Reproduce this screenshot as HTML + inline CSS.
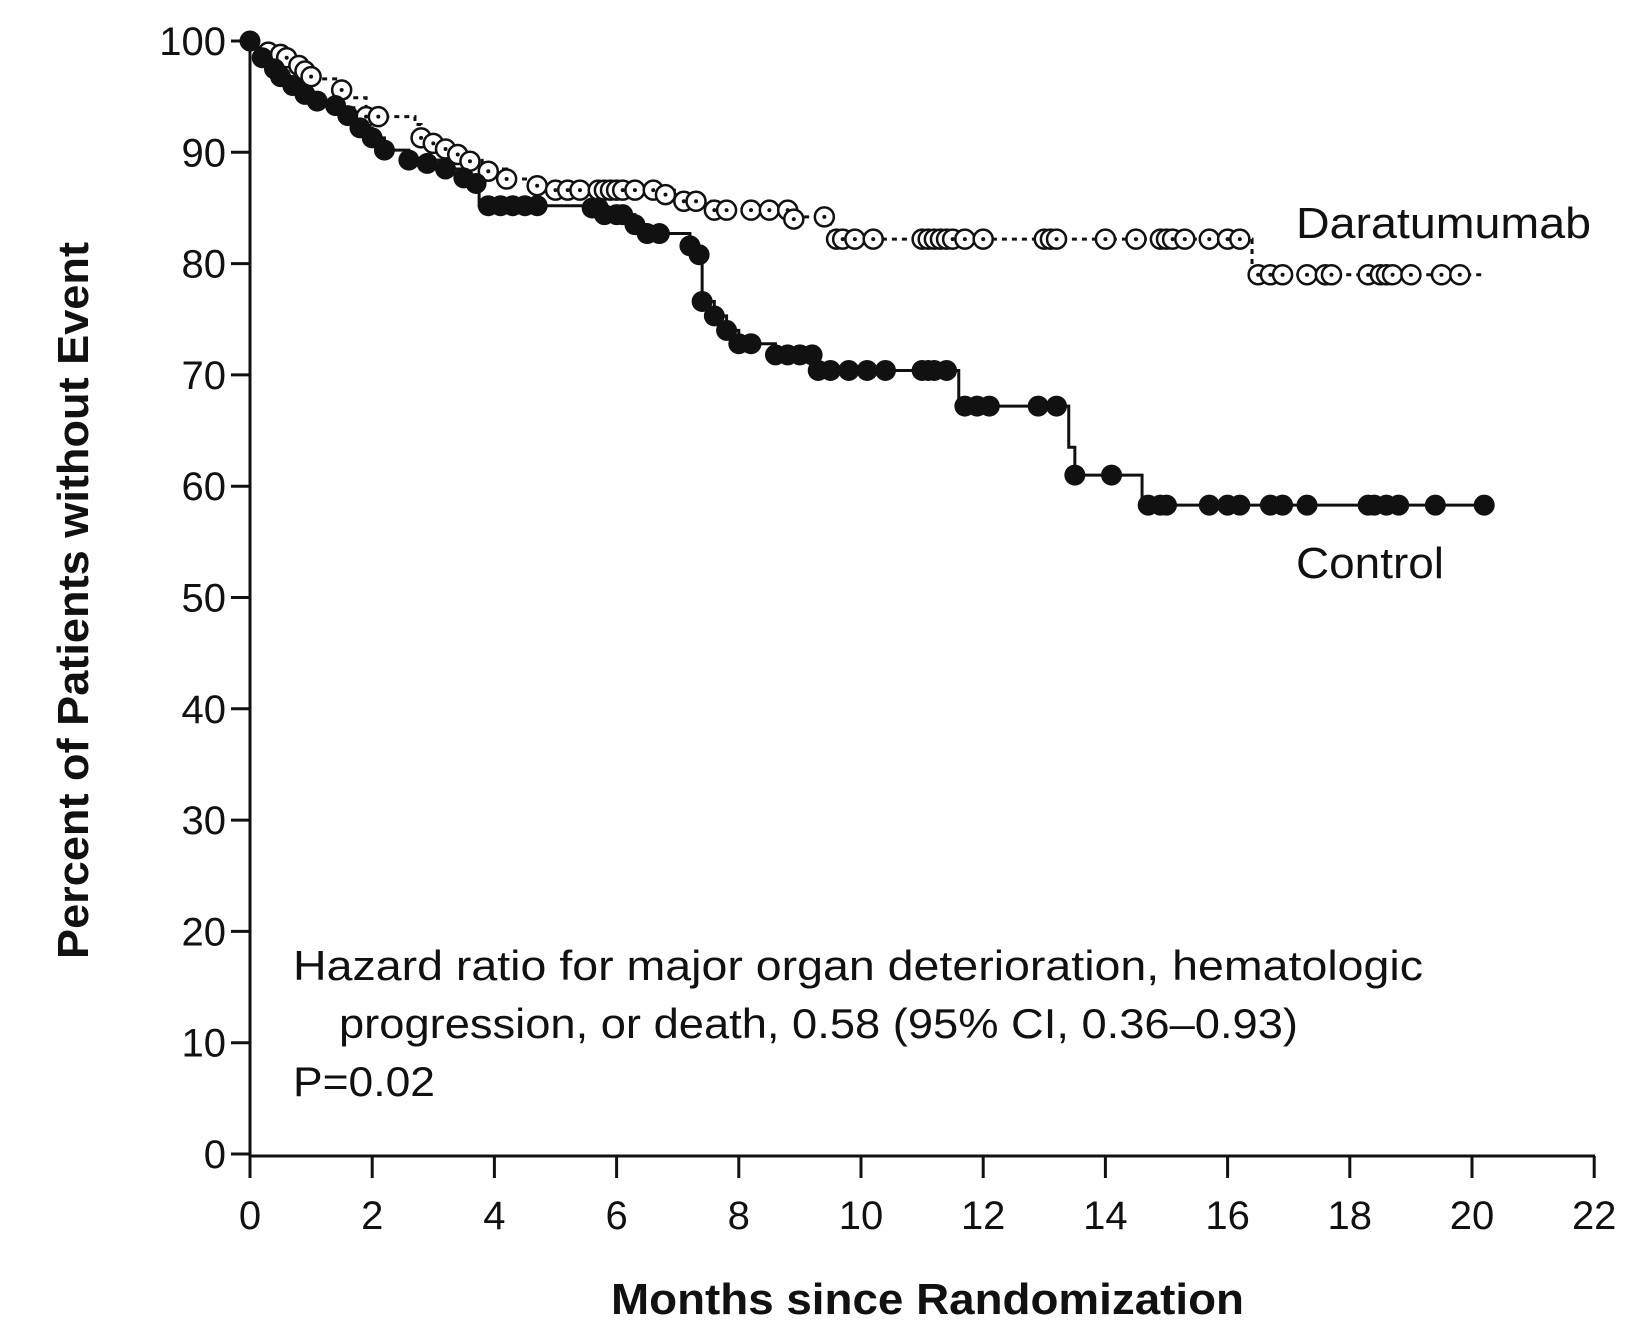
<!DOCTYPE html>
<html><head><meta charset="utf-8"><style>
body{margin:0;background:#fff}
svg{display:block;font-family:"Liberation Sans",sans-serif;fill:#111}
</style></head><body>
<svg id="s" width="1644" height="1328" viewBox="0 0 1644 1328" xmlns="http://www.w3.org/2000/svg">
<g stroke="#111" stroke-width="3" fill="none">
<line x1="250" y1="41" x2="250" y2="1156"/>
<line x1="250" y1="1156" x2="1595" y2="1156"/>
</g>
<g id="ticks" stroke="#111" stroke-width="3"></g>
<g id="labels" font-size="40"></g>
<text x="1296" y="238" font-size="44" textLength="295" lengthAdjust="spacingAndGlyphs">Daratumumab</text>
<text x="1296" y="578" font-size="44" textLength="148" lengthAdjust="spacingAndGlyphs">Control</text>
<text x="293" y="980" font-size="42" textLength="1130" lengthAdjust="spacingAndGlyphs">Hazard ratio for major organ deterioration, hematologic</text>
<text x="339" y="1038" font-size="42" textLength="959" lengthAdjust="spacingAndGlyphs">progression, or death, 0.58 (95% CI, 0.36–0.93)</text>
<text x="293" y="1096" font-size="42" textLength="142" lengthAdjust="spacingAndGlyphs">P=0.02</text>
<text x="611" y="1314" font-size="44" font-weight="bold" textLength="633" lengthAdjust="spacingAndGlyphs">Months since Randomization</text>
<text transform="translate(88,959) rotate(-90)" font-size="44" font-weight="bold" textLength="717" lengthAdjust="spacingAndGlyphs">Percent of Patients without Event</text>
<g id="plot"></g>
</svg>
<script>
var NS="http://www.w3.org/2000/svg";
function X(m){return 250+m*61.1}function Y(p){return 41+(100-p)*11.13}
function el(t,a,p){var e=document.createElementNS(NS,t);for(var k in a)e.setAttribute(k,a[k]);p.appendChild(e);return e}
var tk=document.getElementById('ticks'),lb=document.getElementById('labels'),pl=document.getElementById('plot');
for(var i=0;i<=10;i++){var y=Y(i*10);el('line',{x1:231,y1:y,x2:250,y2:y},tk);var t=el('text',{x:226,y:y+14,'text-anchor':'end'},lb);t.textContent=i*10;}
for(var m=0;m<=22;m+=2){var x=X(m);el('line',{x1:x,y1:1156,x2:x,y2:1178},tk);var t=el('text',{x:x,y:1229,'text-anchor':'middle'},lb);t.textContent=m;}
function steps(a){var d='M'+X(a[0][0])+' '+Y(a[0][1]);for(var i=1;i<a.length;i++){d+=' H'+X(a[i][0])+' V'+Y(a[i][1]);}return d}
var dara=[[0,100],[0.1,99.5],[0.3,99],[0.6,98.5],[0.8,97.8],[0.9,97.3],[1.0,96.6],[1.5,95.6],[1.6,94.9],[1.9,93.2],[2.7,92.5],[2.8,91.3],[3.1,90.5],[3.5,89.5],[3.8,88.5],[4.2,87.6],[4.7,87],[5,86.6],[7,85.6],[7.6,84.8],[8.8,84.2],[9.5,82.2],[16.4,79],[20.2,79]];
var ctrl=[[0,100],[0.1,99],[0.2,98.3],[0.4,97.5],[0.5,96.8],[0.7,96],[0.9,95.2],[1.1,94.6],[1.5,94],[1.7,93],[1.8,92.2],[2,91.3],[2.2,90.2],[2.6,89.3],[3.2,88.5],[3.5,87.7],[3.7,87],[3.75,85.2],[5.6,85],[5.8,84.4],[6.3,83.5],[6.5,82.7],[7.2,81.6],[7.35,80.8],[7.4,76.6],[7.6,75.3],[7.8,74],[8,72.8],[8.6,71.8],[9.3,70.4],[11.6,67.2],[13.4,63.5],[13.5,61],[14.6,58.3],[20.2,58.3]];
el('path',{d:steps(dara),fill:'none',stroke:'#111','stroke-width':3,'stroke-dasharray':'5 5'},pl);
el('path',{d:steps(ctrl),fill:'none',stroke:'#111','stroke-width':3},pl);
var dc=[[0.3,99],[0.5,98.8],[0.6,98.5],[0.8,97.8],[0.9,97.3],[1.0,96.8],[1.5,95.6],[1.9,93.2],[2.1,93.2],[2.8,91.3],[3.0,90.8],[3.2,90.3],[3.4,89.8],[3.6,89.2],[3.9,88.3],[4.2,87.6],[4.7,87],[5,86.6],[5.2,86.6],[5.4,86.6],[5.7,86.6],[5.8,86.6],[5.9,86.6],[6,86.6],[6.1,86.6],[6.3,86.6],[6.6,86.6],[6.8,86.2],[7.1,85.6],[7.3,85.6],[7.6,84.8],[7.8,84.8],[8.2,84.8],[8.5,84.8],[8.8,84.8],[8.9,84],[9.4,84.2],[9.6,82.2],[9.7,82.2],[9.9,82.2],[10.2,82.2],[11,82.2],[11.1,82.2],[11.2,82.2],[11.3,82.2],[11.4,82.2],[11.5,82.2],[11.7,82.2],[12,82.2],[13,82.2],[13.1,82.2],[13.2,82.2],[14,82.2],[14.5,82.2],[14.9,82.2],[15,82.2],[15.1,82.2],[15.3,82.2],[15.7,82.2],[16,82.2],[16.2,82.2],[16.5,79],[16.7,79],[16.9,79],[17.3,79],[17.6,79],[17.7,79],[18.3,79],[18.5,79],[18.6,79],[18.7,79],[19,79],[19.5,79],[19.8,79]];
var cc=[[0,100],[0.2,98.5],[0.4,97.5],[0.5,96.8],[0.7,96],[0.9,95.2],[1.1,94.6],[1.4,94.2],[1.6,93.3],[1.8,92.2],[2,91.3],[2.2,90.2],[2.6,89.3],[2.9,89],[3.2,88.5],[3.5,87.7],[3.7,87.2],[3.9,85.2],[4.1,85.2],[4.3,85.2],[4.5,85.2],[4.7,85.2],[5.6,85],[5.7,85],[5.8,84.4],[6,84.4],[6.1,84.4],[6.3,83.5],[6.5,82.7],[6.7,82.7],[7.2,81.6],[7.35,80.8],[7.4,76.6],[7.6,75.3],[7.8,74],[8,72.8],[8.2,72.8],[8.6,71.8],[8.8,71.8],[9,71.8],[9.2,71.8],[9.3,70.4],[9.5,70.4],[9.8,70.4],[10.1,70.4],[10.4,70.4],[11,70.4],[11.1,70.4],[11.2,70.4],[11.4,70.4],[11.7,67.2],[11.9,67.2],[12.1,67.2],[12.9,67.2],[13.2,67.2],[13.5,61],[14.1,61],[14.7,58.3],[14.9,58.3],[15,58.3],[15.7,58.3],[16,58.3],[16.2,58.3],[16.7,58.3],[16.9,58.3],[17.3,58.3],[18.3,58.3],[18.4,58.3],[18.6,58.3],[18.8,58.3],[19.4,58.3],[20.2,58.3]];
dc.forEach(function(p){el('circle',{cx:X(p[0]),cy:Y(p[1]),r:9.5,fill:'#fff',stroke:'#111','stroke-width':2.5},pl);el('circle',{cx:X(p[0]),cy:Y(p[1]),r:2,fill:'#111'},pl)});
cc.forEach(function(p){el('circle',{cx:X(p[0]),cy:Y(p[1]),r:10.5,fill:'#111'},pl)});
</script>
</body></html>
